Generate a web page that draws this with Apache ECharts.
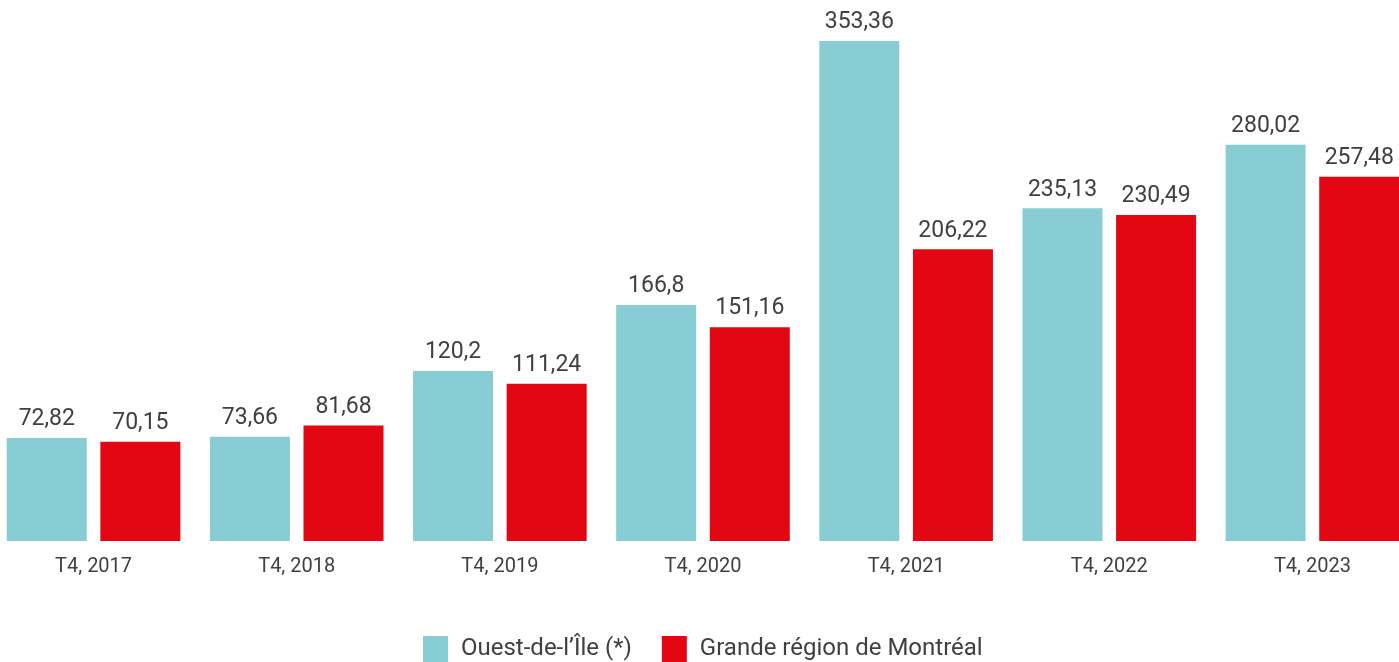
<!DOCTYPE html>
<html>
<head>
<meta charset="utf-8">
<script src="https://cdn.jsdelivr.net/npm/echarts@6/dist/echarts.min.js"></script>
<style>
  html, body { margin: 0; padding: 0; background: #fff; overflow: hidden; }
  /* le graphique dépasse un peu la fenêtre des deux côtés */
  #main { width: 1422px; height: 662px; margin-left: -8px; }
</style>
</head>
<body>
<div id="main"></div>
<script>
var categories = ['T4, 2017', 'T4, 2018', 'T4, 2019', 'T4, 2020', 'T4, 2021', 'T4, 2022', 'T4, 2023'];
var ouestIle = [72.82, 73.66, 120.2, 166.8, 353.36, 235.13, 280.02];
var grandeRegion = [70.15, 81.68, 111.24, 151.16, 206.22, 230.49, 257.48];
var seriesNames = ['Ouest-de-l\u2019Île (*)', 'Grande région de Montréal'];

var textColor = '#404040';
var fontFamily = 'Roboto, "Open Sans", sans-serif';

// virgule décimale
function frNumber(p) {
  return String(p.value).replace('.', ',');
}

var myChart = echarts.init(document.getElementById('main'));
myChart.setOption({
  animation: false,
  textStyle: { fontFamily: fontFamily },
  grid: { left: 0, right: 0, top: 2, bottom: 121 },
  legend: {
    top: 631,
    left: 426,
    itemWidth: 25,
    itemHeight: 26,
    itemGap: 30,
    icon: 'rect',
    textStyle: { fontSize: 24, color: textColor, fontFamily: fontFamily, padding: [0, 0, 0, 8] },
    data: seriesNames
  },
  xAxis: {
    type: 'category',
    data: categories,
    axisLine: { show: false },
    axisTick: { show: false },
    axisLabel: { fontSize: 20, color: textColor, margin: 16 }
  },
  yAxis: {
    type: 'value',
    min: 0,
    max: 381,
    show: false,
    splitLine: { show: false }
  },
  series: [
    {
      name: seriesNames[0],
      type: 'bar',
      data: ouestIle,
      barWidth: 80,
      barGap: '17%',
      itemStyle: { color: '#89CDD4' },
      label: { show: true, position: 'top', distance: 7, fontSize: 23, color: textColor, formatter: frNumber }
    },
    {
      name: seriesNames[1],
      type: 'bar',
      data: grandeRegion,
      barWidth: 80,
      barGap: '17%',
      itemStyle: { color: '#E30613' },
      label: { show: true, position: 'top', distance: 7, fontSize: 23, color: textColor, formatter: frNumber }
    }
  ]
});
</script>
</body>
</html>
